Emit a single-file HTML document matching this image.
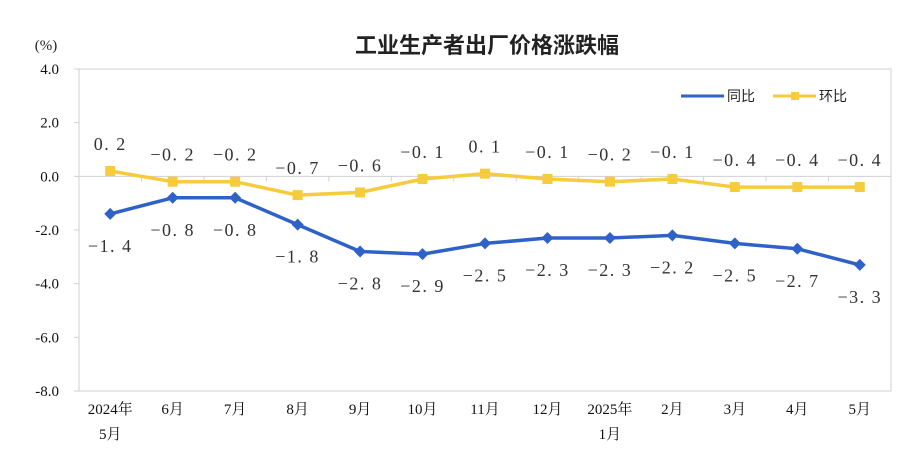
<!DOCTYPE html>
<html><head><meta charset="utf-8"><style>
body{margin:0;background:#fff;}
svg{display:block;}
</style></head><body>
<svg id="chart" width="913" height="465" xmlns="http://www.w3.org/2000/svg">
<text x="487" y="53" text-anchor="middle" font-family="'Liberation Sans','Noto Sans CJK SC',sans-serif" font-size="22" font-weight="bold" fill="#222">工业生产者出厂价格涨跌幅</text>
<text x="46" y="50" text-anchor="middle" font-family="'Liberation Serif',serif" font-size="15" fill="#222">(%)</text>
<rect x="79" y="69" width="812" height="322" fill="none" stroke="#d0d0d0" stroke-width="1"/>
<g id="axes"></g>
<g id="series"></g>
<g>
<line x1="681" y1="96" x2="724" y2="96" stroke="#2e62c8" stroke-width="3"/>
<text x="727" y="101" font-family="'Liberation Sans','Noto Sans CJK SC',sans-serif" font-size="14" fill="#222">同比</text>
<line x1="773" y1="96" x2="816" y2="96" stroke="#f6cb3c" stroke-width="3"/>
<rect x="791" y="92" width="8" height="8" fill="#f6cb3c"/>
<text x="819" y="101" font-family="'Liberation Sans','Noto Sans CJK SC',sans-serif" font-size="14" fill="#222">环比</text>
</g>
</svg>
<script>
const categories1 = ["2024年","6月","7月","8月","9月","10月","11月","12月","2025年","2月","3月","4月","5月"];
const categories2 = ["5月","","","","","","","","1月","","","",""];
const yoyValues = [-1.4,-0.8,-0.8,-1.8,-2.8,-2.9,-2.5,-2.3,-2.3,-2.2,-2.5,-2.7,-3.3];
const momValues = [0.2,-0.2,-0.2,-0.7,-0.6,-0.1,0.1,-0.1,-0.2,-0.1,-0.4,-0.4,-0.4];
const yTicks = [4,2,0,-2,-4,-6,-8];

const NS="http://www.w3.org/2000/svg";
const pL=79,pR=891,pT=69,pB=391,yMax=4,yMin=-8;
const band=(pR-pL)/categories1.length;
function xs(i){return pL+band*(i+0.5);}
function ys(v){return pT+(yMax-v)/(yMax-yMin)*(pB-pT);}
function mk(tag,attrs,parent){const e=document.createElementNS(NS,tag);for(const k in attrs)e.setAttribute(k,attrs[k]);parent.appendChild(e);return e;}
function fmt(v){return (v<0?"−":"")+Math.abs(v).toFixed(1).replace(".",". ");}
const axes=document.getElementById("axes"),series=document.getElementById("series");
const serif="'Liberation Serif','Noto Serif CJK SC',serif";
yTicks.forEach(t=>{
  const y=ys(t);
  const l=mk("line",{x1:pL-5,x2:pL,y1:y,y2:y,stroke:"#d0d0d0"},axes);
  
  
  const tx=mk("text",{x:59,y:y+5,"text-anchor":"end","font-family":serif,"font-size":15,fill:"#111"},axes);
  tx.textContent=t.toFixed(1);
  
  
});
const z=ys(0);
const zl=mk("line",{x1:pL,x2:pR,y1:z,y2:z,stroke:"#d0d0d0"},axes);


for(let i=1;i<categories1.length;i++){
  const x=pL+band*i;
  const l=mk("line",{x1:x,x2:x,y1:z,y2:z+5,stroke:"#d0d0d0"},axes);
  
  
}
categories1.forEach((c,i)=>{
  const t=mk("text",{x:xs(i),y:414,"text-anchor":"middle","font-family":serif,"font-size":15,fill:"#111"},axes);
  t.textContent=c;
  
  
  if(categories2[i]){
    const t2=mk("text",{x:xs(i),y:439,"text-anchor":"middle","font-family":serif,"font-size":15,fill:"#111"},axes);
    t2.textContent=categories2[i];
    
    
  }
});
function drawSeries(vals,color,name,above,square){
  const pts=vals.map((v,i)=>xs(i)+","+ys(v)).join(" ");
  const pl=mk("polyline",{points:pts,fill:"none",stroke:color,"stroke-width":3.5,"stroke-linejoin":"round"},series);
  
  
  vals.forEach((v,i)=>{
    const x=xs(i),y=ys(v);
    let m;
    if(square){m=mk("rect",{x:x-5,y:y-5,width:10,height:10,fill:color},series);}
    else{m=mk("polygon",{points:`${x},${y-6} ${x+6},${y} ${x},${y+6} ${x-6},${y}`,fill:color},series);}
    
    
    const t=mk("text",{x:x,y:above?y-21:y+38,"text-anchor":"middle","font-family":serif,"font-size":18,"letter-spacing":"1.5",fill:"#333"},series);
    t.textContent=fmt(v);
    
    
  });
}
drawSeries(momValues,"#f6cb3c","mom",true,true);
drawSeries(yoyValues,"#2e62c8","yoy",false,false);
</script>
</body></html>
